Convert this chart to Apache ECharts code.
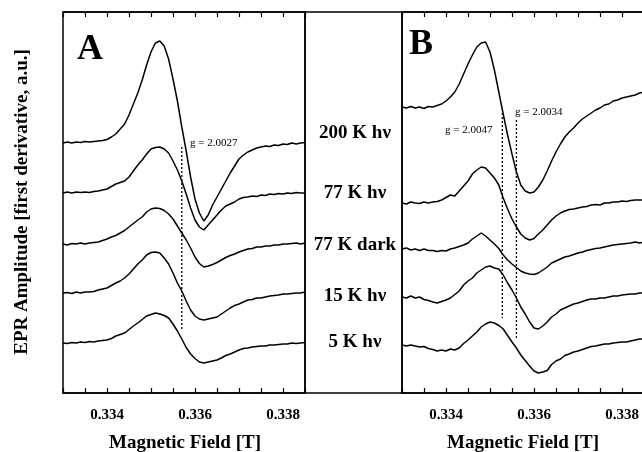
<!DOCTYPE html>
<html><head><meta charset="utf-8">
<script src="https://cdn.jsdelivr.net/npm/echarts@6/dist/echarts.min.js"></script>
<style>html,body{margin:0;padding:0;background:#fff}#c{width:642px;height:452px}</style>
</head><body><div id="c"></div>
<script>
// Magnetic field grid (T)
const fieldGrid = [0.3330,0.3331,0.3332,0.3333,0.3334,0.3335,0.3336,0.3337,0.3338,0.3339,
  0.3340,0.3341,0.3342,0.3343,0.3344,0.3345,0.3346,0.3347,0.3348,0.3349,
  0.3350,0.3351,0.3352,0.3353,0.3354,0.3355,0.3356,0.3357,0.3358,0.3359,
  0.3360,0.3361,0.3362,0.3363,0.3364,0.3365,0.3366,0.3367,0.3368,0.3369,
  0.3370,0.3371,0.3372,0.3373,0.3374,0.3375,0.3376,0.3377,0.3378,0.3379,
  0.3380,0.3381,0.3382,0.3383,0.3384,0.3385];
const tickLabels = ['0.334','0.336','0.338'];
const traceLabels = ['200 K h\u03bd','77 K h\u03bd','77 K dark','15 K h\u03bd','5 K h\u03bd'];
// vertical offsets of the stacked spectra (a.u.)
const offsetsA = [250, 200, 149, 100, 50];
const offsetsB = [286, 190, 144, 96, 48];
// Panel A amplitudes
const a200 = [0,1,0,1,0.5,1.5,1,1.5,2,2.5, 3.5,6,9,14,19,28,39,50,63,78, 91,100,102,97,84,64,42,16,-8,-34, -56,-70,-78,-72,-62,-54,-46,-38,-30,-23, -16,-12,-9,-7,-5,-4,-3,-3.5,-2,-2.5, -1,-1.5,0,-1,0,0.5];
const a77 = [0,1,0,1,0.5,1,0.5,1.5,2,3, 4,6.5,9,10.5,12,16,22,28,33,39, 44,45.5,46,44,40,32,23,12,-1,-15, -27,-34,-37,-32,-27,-22,-17,-13,-11,-9, -6,-4.5,-4,-3,-3.5,-2,-2.5,-1,-1.5,-0.5, -1,0,-0.5,0.5,0,0];
const a77d = [0,-1,0.5,0,1,0,1,1.5,2,3.5, 5,7,8.5,11,13.5,17,20.5,24,27,32, 35,36,35.5,33.5,30,25,18,11,4,-4, -13,-19.5,-23,-22,-20.5,-18.5,-16,-13.5,-11.5,-10, -8,-6.5,-5,-4.5,-3,-3,-2,-2,-1,-1, 0,0,0.5,1,0,1];
const a15 = [0,0.5,-0.5,1,0,1,1,1.5,3,4, 5,7.5,10,12,15,19,24,29,33,38, 40.5,41,40,35,29,20,10,2,-8,-17, -23,-26,-27,-26,-25,-24,-21,-18,-15,-12.5, -11,-9,-7,-6.5,-5,-5,-4,-3,-2.5,-2, -1,-1,-0.5,0,0,1];
const a5 = [0,-0.5,0.5,0,1,0.5,1.5,1,2,2.5, 3,4.5,7,8.5,10,13.5,17,20,23.5,27, 28.5,30,29,27.5,25,19,12,4,-4.5,-11, -15.5,-19,-20,-19,-18,-17,-15,-12.5,-11,-9, -7,-5.5,-5,-4,-3.5,-3,-3,-2,-2,-1.5, -1,-1,0,-0.5,0,0.5];
// Panel B amplitudes
const b200 = [0,-1,0.5,-1,0,-1.5,0.5,0,1.5,3, 6,10,15,23,33,43,52,60,64,65, 55,37,15,-7,-28,-47,-65,-78,-84,-86, -85,-80,-73,-64,-54,-45,-37,-30,-25,-21, -16,-12,-9,-6,-3,-1,2,3,6,7, 9,10,11,12,14,15];
const b77 = [0,-1,1,0,-0.5,1,0,1,1.5,3, 5.5,8,7,12,17,22,29,33,36,35, 30,25,18,5,-6,-16,-24,-31,-35,-37, -35.5,-31,-27,-22,-17,-13,-10,-8,-6.5,-6, -5,-4,-3.5,-2,-1.5,-2,0,0,1,1, 2,1.5,2.5,3,3,3];
const b77d = [0,1,-1,0,-1.5,0,-1.5,-1.5,-2.5,-1.5, -2,0,1,2.5,4,6,10,13,16,13, 9,5,0.5,-6,-11,-15,-18.5,-22,-24,-25, -25.5,-24,-21,-18,-14,-12,-10,-8,-7,-5.5, -4,-3,-1.5,-0.5,0.5,1,2,3,4,4.5, 5,5.5,6,7,6,7];
const b15 = [0,-1,1,-1,0,-2.5,-3.5,-5,-6,-4.5, -3,-1,2.5,6,12,16,19,24,27,30, 31,29,28,22,14,7,-1,-10,-17,-25, -31,-32,-29,-25,-20,-17,-13,-11,-9,-7, -6,-4.5,-3,-2,-2,-1,-1,0,1,1, 2,2.5,3,3,4,4];
const b5 = [0,-1,0,-1,-2,-1.5,-3.5,-4.5,-6,-5, -6,-4,-5,-3,1.5,5,9,13,18,21, 23,22,19.5,16,9.5,3,-3,-10,-15.5,-21, -26,-28,-27,-25.5,-19.5,-16,-14,-10.5,-9,-7, -6,-4.5,-3,-1.5,-1,0,1,1,2,2.5, 3,3,4,5,6,6];
// g-value marker lines: field, upper and lower end (a.u.)
const gFieldsA = [0.33570];
const gTopA = [246];
const gBottomA = [63];
const gTextA = ['g = 2.0027'];
const gFieldsB = [0.33528, 0.33560];
const gTopB = [280, 273];
const gBottomB = [75, 53];
const gTextB = ['g = 2.0047', 'g = 2.0034'];

const tracesA = [a200, a77, a77d, a15, a5];
const tracesB = [b200, b77, b77d, b15, b5];

const FONT = '"Liberation Serif","Times New Roman",serif';
const chart = echarts.init(document.getElementById('c'));

function labelFmt(v) {
  const s = v.toFixed(3);
  return (Math.abs(v - parseFloat(s)) < 1e-7 && tickLabels.includes(s)) ? s : '';
}
function xAxes(gi) {
  const base = {gridIndex: gi, type: 'value', min: 0.333, max: 0.3385, interval: 0.0005,
    splitLine: {show: false},
    axisTick: {inside: true, length: 5, lineStyle: {color: '#000', width: 1.2}}};
  return [
    Object.assign({}, base, {position: 'bottom',
      axisLine: {show: true, onZero: false, lineStyle: {color: '#000', width: 1.5}},
      axisLabel: {formatter: labelFmt, fontFamily: FONT, fontWeight: 'bold', fontSize: 15, color: '#000', margin: 15}}),
    Object.assign({}, base, {position: 'top',
      axisLine: {show: true, onZero: false, lineStyle: {color: '#000', width: 1.5}},
      axisLabel: {show: false}})
  ];
}
const series = [];
function addTraces(traces, offsets, xi, yi) {
  traces.forEach((amp, t) => {
    series.push({type: 'line', xAxisIndex: xi, yAxisIndex: yi, showSymbol: false, symbol: 'none',
      lineStyle: {color: '#000', width: 1.5}, animation: false, z: 3,
      data: fieldGrid.map((f, i) => [f, offsets[t] + amp[i]])});
  });
}
function addG(fields, tops, bottoms, xi, yi) {
  fields.forEach((f, i) => {
    series.push({type: 'line', xAxisIndex: xi, yAxisIndex: yi, symbol: 'none', animation: false, z: 2,
      lineStyle: {color: '#000', width: 1.3, type: [2, 2]},
      data: [[f, tops[i]], [f, bottoms[i]]]});
  });
}
addTraces(tracesA, offsetsA, 0, 0);
addTraces(tracesB, offsetsB, 2, 1);
addG(gFieldsA, gTopA, gBottomA, 0, 0);
addG(gFieldsB, gTopB, gBottomB, 2, 1);

function txt(text, x, y, size, weight, align, extra) {
  return Object.assign({type: 'text', x: x, y: y, silent: true, z: 10, style: {
    text: text, font: weight + ' ' + size + 'px ' + FONT, fill: '#000',
    align: align, textAlign: align, verticalAlign: 'middle', textVerticalAlign: 'middle'}}, extra || {});
}
const graphics = [
  {type: 'rect', shape: {x: 305, y: 12, width: 97, height: 381}, style: {fill: 'transparent', stroke: '#000', lineWidth: 1.5}, z: 5},
  txt('A', 90, 50, 36, 'bold', 'center'),
  txt('B', 421, 45, 36, 'bold', 'center'),
  txt('Magnetic Field [T]', 185, 443, 19, 'bold', 'center'),
  txt('Magnetic Field [T]', 523, 443, 19, 'bold', 'center'),
  txt('EPR Amplitude [first derivative, a.u.]', 22, 202, 19, 'bold', 'center', {rotation: Math.PI / 2})
];
const midY = [133, 193, 245, 296, 342];
traceLabels.forEach((l, i) => graphics.push(txt(l, 355, midY[i], 19, 'bold', 'center')));
graphics.push(txt(gTextA[0], 190, 143, 11, 'normal', 'left'));
graphics.push(txt(gTextB[0], 445, 130, 11, 'normal', 'left'));
graphics.push(txt(gTextB[1], 515, 112, 11, 'normal', 'left'));

chart.setOption({
  animation: false,
  backgroundColor: '#fff',
  grid: [
    {left: 63, top: 12, width: 242, height: 381, show: true, borderColor: '#000', borderWidth: 1.5, backgroundColor: 'transparent', outerBoundsMode: 'none', containLabel: false},
    {left: 402, top: 12, width: 242, height: 381, show: true, borderColor: '#000', borderWidth: 1.5, backgroundColor: 'transparent', outerBoundsMode: 'none', containLabel: false}
  ],
  xAxis: xAxes(0).concat(xAxes(1)),
  yAxis: [
    {gridIndex: 0, type: 'value', min: 0, max: 381, show: false},
    {gridIndex: 1, type: 'value', min: 0, max: 381, show: false}
  ],
  series: series,
  graphic: graphics
});
</script></body></html>
